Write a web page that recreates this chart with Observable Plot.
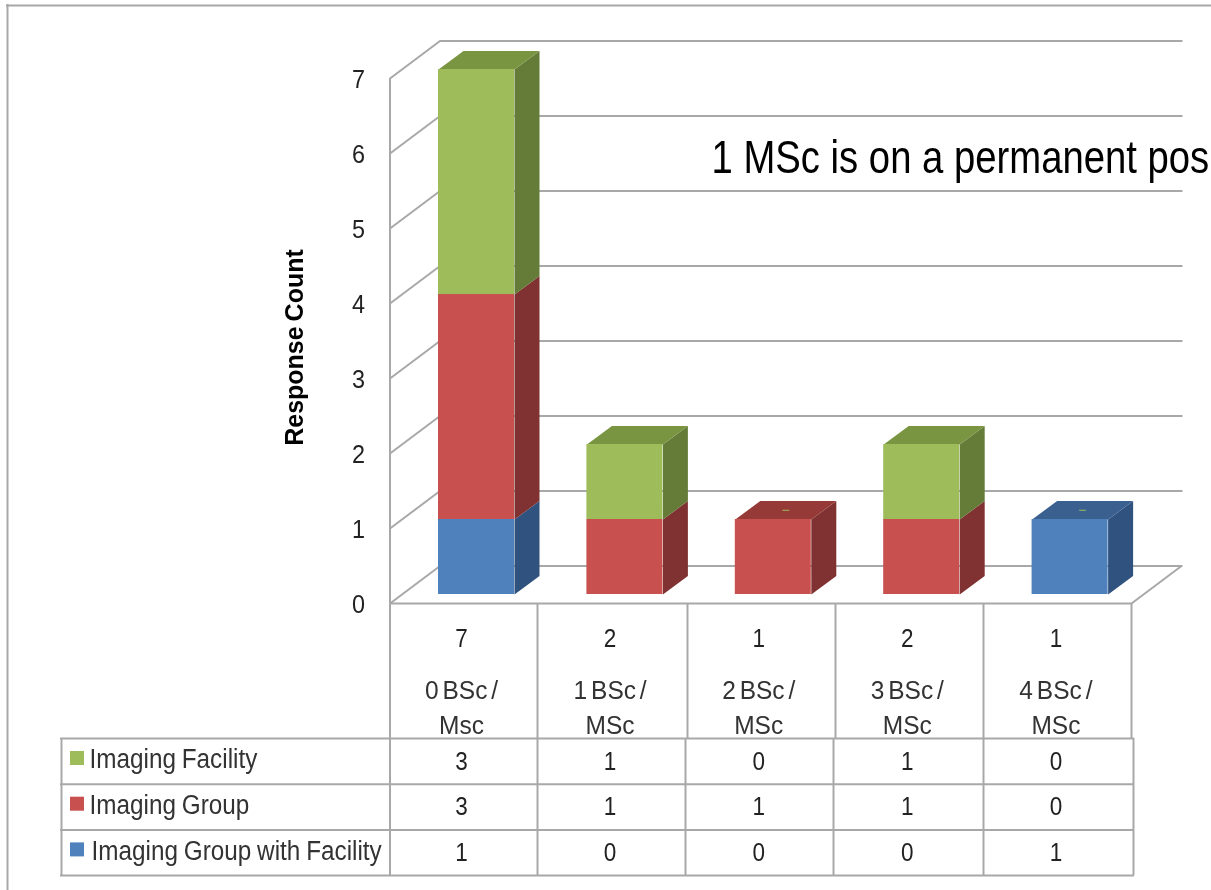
<!DOCTYPE html>
<html><head><meta charset="utf-8">
<script src="https://cdn.jsdelivr.net/npm/d3@7"></script>
<script src="https://cdn.jsdelivr.net/npm/@observablehq/plot@0.6"></script>
<style>html,body{margin:0;padding:0;background:#fff;overflow:hidden}svg{display:block}</style>
</head><body><div id="c"></div>
<script>
// ---- data
const categories = ["0 BSc /\nMsc", "1 BSc /\nMSc", "2 BSc /\nMSc", "3 BSc /\nMSc", "4 BSc /\nMSc"];
const totals = [7, 2, 1, 2, 1];
const facility = [3, 1, 0, 1, 0];
const group = [3, 1, 1, 1, 0];
const groupWithFacility = [1, 0, 0, 0, 1];
const seriesNames = ["Imaging Group with Facility", "Imaging Group", "Imaging Facility"];
const seriesValues = [groupWithFacility, group, facility];
const frontColors = ["#4F81BD", "#C8504E", "#9FBC5A"];
const sideColors = ["#30527F", "#7F3231", "#647C37"];
const topColors = ["#3A6090", "#963A38", "#7A9542"];
const yTicks = [0, 1, 2, 3, 4, 5, 6, 7];
const note = "1 MSc is on a permanent pos";

// ---- layout helpers (screen position -> scale units)
const W = 1211, H = 890, ox = 389.5, oy = 603, ux = 148.4, uy = 75;
const X = p => (p - ox) / ux, Y = p => (oy - p) / uy;
const wallDX = 50 / ux, wallDY = 37.5 / uy;         // chart depth
const barPad = X(438), barW = 76 / ux, barBase = Y(594); // bar in front plane
const barDX = 25 / ux, barDY = 18.5 / uy;           // bar depth

// ---- stacked segments
const segs = [];
categories.forEach((c, i) => {
  let acc = 0;
  seriesNames.forEach((s, k) => {
    const v = seriesValues[k][i];
    if (v > 0) {
      const top = acc + v === totals[i];
      segs.push({i, s, k, lo: acc, hi: acc + v, top});
    }
    acc += v;
  });
});
const sidePoly = segs.flatMap((d, n) => {
  const x0 = d.i + barPad + barW, a = barBase + d.lo, b = barBase + d.hi;
  return [[x0, a], [x0 + barDX, a + barDY], [x0 + barDX, b + barDY], [x0, b]].map(([x, y]) => ({x, y, id: n, k: d.k}));
});
const topPoly = segs.filter(d => d.top).flatMap((d, n) => {
  const x0 = d.i + barPad, b = barBase + d.hi;
  return [[x0, b], [x0 + barW, b], [x0 + barW + barDX, b + barDY], [x0 + barDX, b + barDY]].map(([x, y]) => ({x, y, id: n, k: d.k}));
});
// zero-height facility segment leaves a small dash on top of the bar
const dashes = facility.flatMap((v, i) => {
  if (v !== 0) return [];
  const cx = i + barPad + (barW + barDX) / 2, cy = barBase + totals[i] + barDY / 2;
  return [{x: cx - 3 / ux, y: cy, id: i}, {x: cx + 3 / ux, y: cy, id: i}];
});

// ---- chrome
const gray = "#a8a8a8";
const wallLines = yTicks.flatMap(v => [
  {x: 0, y: v, id: v},
  {x: wallDX, y: v + wallDY, id: v},
  {x: X(1182), y: v + wallDY, id: v}
]);
const floorFront = [{x: 0, y: 0}, {x: X(1131), y: 0}, {x: X(1131) + wallDX, y: wallDY}];
const upperCols = [389.5, 537, 687, 835, 983, 1131].map(X);
const lowerCols = [389.5, 537, 685, 833, 983, 1133].map(X);
const rowTop = 738, rowH = 45.7;
const rowLines = d3.range(4).map(r => Y(rowTop + r * rowH));
const rowName = [...seriesNames].reverse();
const rowVals = [...seriesValues].reverse();
const cx = i => X(461) + i * (148.6 / ux);
const rowCells = rowVals.flatMap((vals, r) => vals.map((v, i) => ({i, r, v})));
const font = "'Liberation Sans',Arial,sans-serif";

const faceMarks = [];
frontColors.forEach((_, k) => {
  faceMarks.push(Plot.line(sidePoly.filter(d => d.k === k), {x: "x", y: "y", z: "id", fill: sideColors[k], stroke: "none"}));
  faceMarks.push(Plot.line(topPoly.filter(d => d.k === k), {x: "x", y: "y", z: "id", fill: topColors[k], stroke: "none"}));
});

const chart = Plot.plot({
  width: W, height: H, margin: 0,
  style: {filter: "blur(0.45px)", fontFamily: font},
  x: {domain: [X(0), X(W)], range: [0, W], axis: null},
  y: {domain: [Y(H), Y(0)], range: [H, 0], axis: null},
  color: {domain: seriesNames, range: frontColors},
  marks: [
    // outer frame (top and left only are visible)
    Plot.ruleY([Y(5)], {x1: X(6), x2: X(W), stroke: gray, strokeWidth: 2}),
    Plot.ruleX([X(7)], {y1: Y(4), y2: Y(H), stroke: gray, strokeWidth: 2}),
    // walls
    Plot.line(wallLines, {x: "x", y: "y", z: "id", stroke: gray, strokeWidth: 2, strokeLinecap: "butt"}),
    Plot.ruleX([0], {y1: 7, y2: 0, stroke: gray, strokeWidth: 2}),
    Plot.line(floorFront, {x: "x", y: "y", stroke: gray, strokeWidth: 2, strokeLinecap: "butt"}),
    // table grid
    Plot.ruleX(upperCols, {y1: 0, y2: Y(rowTop), stroke: gray, strokeWidth: 2}),
    Plot.ruleX(lowerCols, {y1: rowLines[0], y2: rowLines[3], stroke: gray, strokeWidth: 2}),
    Plot.ruleX([X(61)], {y1: rowLines[0], y2: rowLines[3], stroke: gray, strokeWidth: 2}),
    Plot.ruleY(rowLines, {x1: X(60), x2: X(1134), stroke: gray, strokeWidth: 2}),
    // bars
    ...faceMarks,
    Plot.rect(segs, {
      x1: d => d.i + barPad, x2: d => d.i + barPad + barW,
      y1: d => barBase + d.lo, y2: d => barBase + d.hi, fill: "s"
    }),
    Plot.line(dashes, {x: "x", y: "y", z: "id", stroke: frontColors[2], strokeWidth: 1}),
    // y tick labels
    Plot.text(yTicks, {className: "tick", x: X(358), y: d => d - 1 / uy, text: d => String(d), fontSize: 26, fill: "#222"}),
    Plot.text(["Response Count"], {className: "ylab", x: X(294), y: Y(347), rotate: -90, fontSize: 25, fontWeight: "bold", fill: "#000"}),
    // totals and category labels
    Plot.text(totals, {className: "cell", x: (d, i) => cx(i), y: Y(638), text: d => String(d), fontSize: 25, fill: "#222"}),
    Plot.text(categories, {className: "cat", x: (d, i) => cx(i), y: Y(705), text: d => d, fontSize: 25, lineHeight: 1.4, fill: "#333"}),
    // table rows
    Plot.rect(rowName, {
      x1: X(70), x2: X(84),
      y1: (d, r) => Y(rowTop + rowH * r + 13), y2: (d, r) => Y(rowTop + rowH * r + 27),
      fill: d => d
    }),
    Plot.text(rowName, {
      className: "row",
      x: (d, r) => X(r === 2 ? 91 : 89), y: (d, r) => Y(rowTop + rowH * r + 21),
      text: d => d, textAnchor: "start", fontSize: 27, fill: "#333"
    }),
    Plot.text(rowCells, {
      className: "cell",
      x: d => cx(d.i), y: d => Y(rowTop + rowH * d.r + 23),
      text: d => String(d.v), fontSize: 25, fill: "#222"
    }),
    // annotation, reaches the picture's right edge
    Plot.text([note], {className: "note", x: X(711), y: Y(158), textAnchor: "start", fontSize: 46, fill: "#000"})
  ]
});
document.getElementById("c").append(chart);

// The reference's lettering is horizontally condensed: narrow each text mark.
const squeeze = (cls, k, spacing) => chart.querySelectorAll(`.${cls} text`).forEach(t => {
  if (spacing != null) t.style.wordSpacing = spacing + "px";
  const f = typeof k === "function" ? k(t) : k;
  t.setAttribute("transform", `${t.getAttribute("transform")} scale(${f},1)`);
});
squeeze("tick", 0.9);
squeeze("cell", 0.9);
squeeze("cat", 0.98, -3);
squeeze("ylab", 1, -2);
squeeze("row", 0.9, -1);
squeeze("note", t => 498 / t.getComputedTextLength());
</script>
</body></html>
